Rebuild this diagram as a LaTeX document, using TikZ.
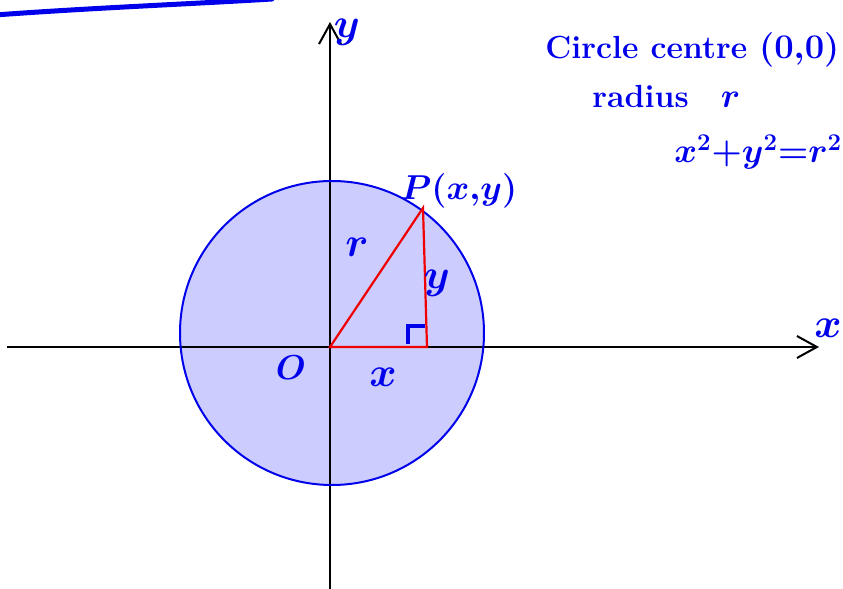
\documentclass[tikz,border=0pt]{standalone}
\usepackage{amsmath}
\usetikzlibrary{arrows.meta}
\definecolor{pen}{RGB}{0,0,235}
\definecolor{disc}{RGB}{204,204,255}
\definecolor{tri}{RGB}{240,0,0}

\begin{document}
\begin{tikzpicture}[x=0.5pt,y=-0.5pt,
  axis/.style={line width=1pt, -{Straight Barb[length=10pt,width=11pt]}},
  ink/.style={text=pen, font=\fontsize{20}{24}\selectfont\bfseries\boldmath},
  note/.style={ink, anchor=west, inner sep=1pt, font=\fontsize{16}{20}\selectfont\bfseries\boldmath},
  side/.style={tri, line width=1.1pt}]

%---------------------------------------
% Frame and points
%---------------------------------------
\clip (0,0) rectangle (843,589);

\coordinate (O) at (330,347);   % origin
\coordinate (P) at (423,208);   % point on circle
\coordinate (F) at (427,347);   % foot of y
\coordinate (xl) at (7,347);
\coordinate (xr) at (819,347);
\coordinate (yb) at (330,595);
\coordinate (yt) at (330,22);

% ---- Disc ----
\fill[disc] (332,333) circle (152);

% Axes
\draw[axis] (xl) -- (xr);
\draw[axis] (yb) -- (yt);

% ---- Circle ----
\draw[pen, line width=1pt] (332,333) circle (152);

% ---- Triangle ----
\draw[side] (O) -- (F) -- (P) -- cycle;
\draw[pen, line width=2pt] (408,344) -- (408,326) -- (425,326);

% Pen stroke top left
\draw[pen, line width=2.5pt, line cap=round]
  (-5,15) .. controls (90,8) and (190,4) .. (272,-1);

% Labels
\node[ink, inner sep=1pt] (ylab) at (347,32) {$y$};
\node[ink, inner sep=1pt] (xlab) at (828,328) {$x$};
\node[ink, font=\fontsize{16}{20}\selectfont\boldmath] (olab) at (291,368) {$O$};
\node[ink] (xlen) at (383,377) {$x$};
\node[ink] (ylen) at (437,283) {$y$};
\node[ink] (rlen) at (357,247) {$r$};
\node[ink, font=\fontsize{16}{19}\selectfont\boldmath] (plab) at (459,191) {$P(x{,}y)$};

% Note top right
\node[note] (title) at (543,50) {Circle centre $(0{,}0)$};
\node[note] (rad) at (590,96) {radius\quad $r$};
\node[note, font=\fontsize{17}{20}\selectfont\boldmath] (eqn) at (672,152) {$x^2{+}y^2{=}r^2$};

\end{tikzpicture}
\end{document}
